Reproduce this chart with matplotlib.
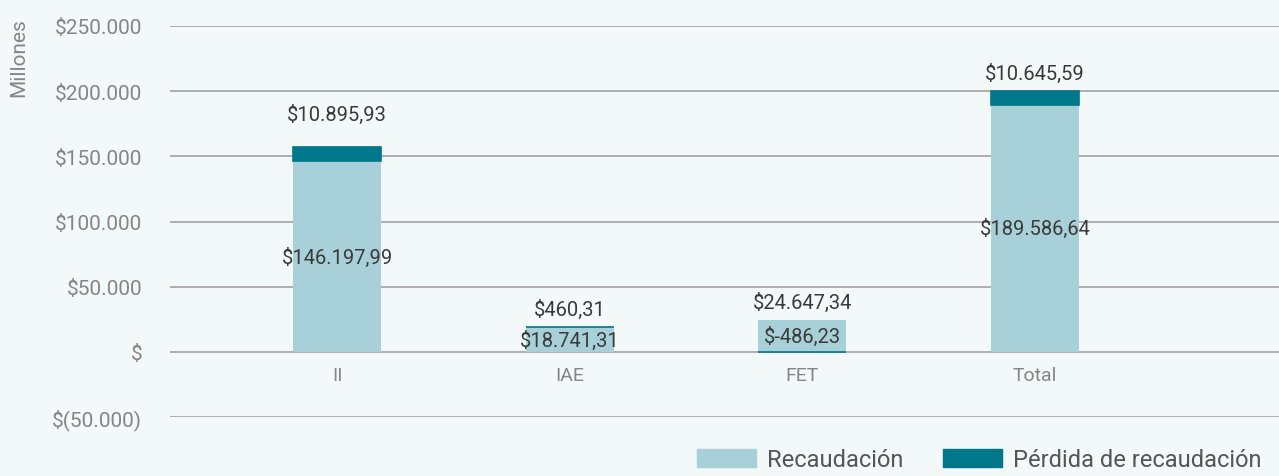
import matplotlib
matplotlib.use("Agg")
import matplotlib.pyplot as plt
from matplotlib.patches import Patch
from matplotlib.ticker import FixedLocator

categories = ["II", "IAE", "FET", "Total"]
recaudacion = [146197.99, 18741.31, 24647.34, 189586.64]
perdida = [10895.93, 460.31, -486.23, 10645.59]
yticks = [-50000, 0, 50000, 100000, 150000, 200000, 250000]
ytick_labels = ["$(50.000)", "$", "$50.000", "$100.000", "$150.000", "$200.000", "$250.000"]

BG = "#F3F8F8"
LIGHT = "#A8D0D8"
DARK = "#00788C"

def fmt(v):
    s = f"{abs(v):,.2f}".replace(",", "X").replace(".", ",").replace("X", ".")
    return ("$-" if v < 0 else "$") + s

plt.rcParams['font.family'] = ['Roboto', 'DejaVu Sans']
fig = plt.figure(figsize=(12.79, 4.77), dpi=100, facecolor=BG)
ax = fig.add_axes([170/1279, 1-418/477, 1-170/1279, (418-27)/477])
ax.set_facecolor(BG)

x = list(range(len(categories)))
w = 0.378
ax.bar(x, recaudacion, width=w, color=LIGHT, zorder=3)
bottoms = [r if p >= 0 else 0 for r, p in zip(recaudacion, perdida)]
ax.bar(x, perdida, width=w, bottom=bottoms, color=DARK, edgecolor=DARK, linewidth=1.2, zorder=3)

for i in x:
    r, p = recaudacion[i], perdida[i]
    if p >= 0:
        top_txt, mid_txt, top = fmt(p), fmt(r), r + p
    else:
        top_txt, mid_txt, top = fmt(r), fmt(p), r
    off = 24 if i == 0 else 13
    ax.annotate(top_txt, (i, top), xytext=(0, off), textcoords="offset points",
                ha="center", va="center", fontsize=14.5, color="#3a3a3a", zorder=5)
    ax.text(i, r / 2, mid_txt, ha="center", va="center", fontsize=14.5, color="#3a3a3a", zorder=5)
    ax.annotate(categories[i], (i, 0), xytext=(0, -17), textcoords="offset points",
                ha="center", va="center", fontsize=14, color="#858585")

ax.set_xlim(-0.718, 4.048)
ax.set_ylim(-50000, 250000)
ax.yaxis.set_major_locator(FixedLocator(yticks))
ax.set_yticklabels(ytick_labels)
ax.set_xticks([])
ax.tick_params(axis="both", length=0, labelsize=15, labelcolor="#858585")
ax.tick_params(axis="y", pad=20)
ax.grid(axis="y", color="#A8A8A8", linewidth=1.3, zorder=1)
for s in ax.spines.values():
    s.set_visible(False)

fig.text(19/1279, 1-58/477, "Millones", rotation=90, ha="center", va="center",
         fontsize=15, color="#858585")

handles = [Patch(color=LIGHT, label="Recaudación"), Patch(color=DARK, label="Pérdida de recaudación")]
fig.legend(handles=handles, loc="lower right", bbox_to_anchor=(1.003, -0.035), ncol=2,
           frameon=False, fontsize=17, handlelength=2.5, handleheight=0.8,
           columnspacing=1.7, handletextpad=0.45, labelcolor="#555555")

fig.savefig("out.png", dpi=100, facecolor=BG)
